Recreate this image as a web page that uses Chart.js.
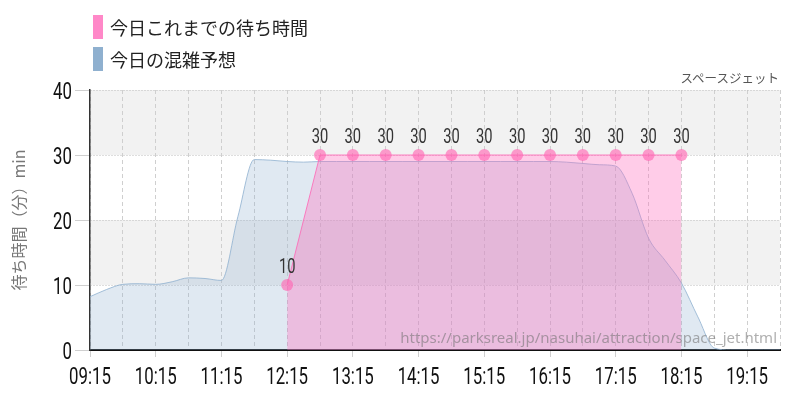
<!DOCTYPE html>
<html>
<head>
<meta charset="utf-8">
<script src="https://cdn.jsdelivr.net/npm/chart.js@4"></script>
<style>
  body { margin: 0; background: #fff; }
  #wrap { position: relative; width: 800px; height: 400px; }
  .legend { position: absolute; left: 93px; font-family: "Noto Sans CJK JP", sans-serif; font-size: 18px; color: #222; }
  .legend span.box { display: inline-block; width: 10px; height: 24px; vertical-align: middle; margin-right: 7px; }
  .legend span.txt { vertical-align: middle; }
  #attr { position: absolute; right: 21px; top: 68px; font-family: "Noto Sans CJK JP", sans-serif; font-size: 12.5px; color: #555; }
</style>
</head>
<body>
<div id="wrap">
  <canvas id="myChart" width="800" height="400"></canvas>
  <div class="legend" style="top:11px"><span class="box" style="background:#ff88c8"></span><span class="txt">今日これまでの待ち時間</span></div>
  <div class="legend" style="top:43px"><span class="box" style="background:#8fb0cf"></span><span class="txt">今日の混雑予想</span></div>
  <div id="attr">スペースジェット</div>
</div>
<script>
// times are minutes since midnight
const actualTimes = [735, 765, 795, 825, 855, 885, 915, 945, 975, 1005, 1035, 1065, 1095];
const actualWaits = [10, 30, 30, 30, 30, 30, 30, 30, 30, 30, 30, 30, 30];

const forecastTimes = [555, 570, 585, 600, 615, 630, 645, 660, 675, 690, 705, 720, 735, 750, 765,
  780, 795, 810, 825, 840, 855, 870, 885, 900, 915, 930, 945, 960, 975, 990, 1005, 1020, 1035,
  1050, 1065, 1080, 1095, 1110, 1125, 1140, 1155, 1170, 1185];
const forecastWaits = [8.2, 9.3, 10.1, 10.2, 10.1, 10.5, 11.1, 11.0, 10.7, 20.5, 29.3, 29.2, 29.0, 28.9, 29.0,
  29.0, 29.0, 29.0, 29.0, 29.0, 29.0, 29.0, 29.0, 29.0, 29.0, 29.0, 29.0, 29.0, 29.0, 28.9, 28.7, 28.5, 28.3,
  24.1, 17.2, 13.8, 10.3, 5.1, 0.3, 0, 0, 0, 0];

const xMin = 555;
const xMax = 1185;
const yTicks = [0, 10, 20, 30, 40];

function fmtTime(v) {
  const h = Math.floor(v / 60), m = v % 60;
  return String(h).padStart(2, '0') + ':' + String(m).padStart(2, '0');
}
const isHourTick = v => (v - xMin) % 60 === 0;

const numFont = "Roboto, sans-serif";
const squeeze = 0.7; // no condensed font installed, so narrow the glyphs

function narrowText(ctx, text, x, y) {
  ctx.save();
  ctx.translate(x, y);
  ctx.scale(squeeze, 1);
  ctx.fillText(text, 0, 0);
  ctx.restore();
}

// grey bands 10-20 and 30-40
const bandsPlugin = {
  id: 'bands',
  beforeDraw(chart) {
    const { ctx, chartArea, scales: { y } } = chart;
    ctx.save();
    ctx.fillStyle = '#f2f2f2';
    [[10, 20], [30, 40]].forEach(([a, b]) => {
      const top = y.getPixelForValue(b), bot = y.getPixelForValue(a);
      ctx.fillRect(chartArea.left, top, chartArea.right - chartArea.left, bot - top);
    });
    ctx.restore();
  }
};

const textPlugin = {
  id: 'texts',
  afterDraw(chart) {
    const ctx = chart.ctx;
    const { x, y } = chart.scales;
    ctx.save();
    ctx.textBaseline = 'alphabetic';

    // value labels over the pink points
    ctx.font = '21px ' + numFont;
    ctx.fillStyle = '#333';
    ctx.textAlign = 'center';
    chart.getDatasetMeta(0).data.forEach((pt, i) => {
      narrowText(ctx, String(actualWaits[i]), pt.x, pt.y - 12);
    });

    // axis labels
    ctx.font = '24px ' + numFont;
    ctx.fillStyle = '#111';
    x.ticks.forEach(t => {
      if (!isHourTick(t.value)) return;
      narrowText(ctx, fmtTime(t.value), x.getPixelForValue(t.value), 384);
    });
    ctx.textAlign = 'right';
    y.ticks.forEach(t => {
      narrowText(ctx, String(t.value), 72, y.getPixelForValue(t.value) + 8.5);
    });

    // watermark
    ctx.font = "15px 'Noto Sans', sans-serif";
    ctx.fillStyle = 'rgba(110,110,110,0.55)';
    ctx.fillText('https://parksreal.jp/nasuhai/attraction/space_jet.html', chart.chartArea.right - 3, chart.chartArea.bottom - 7);
    ctx.restore();
  }
};

const ctx = document.getElementById('myChart').getContext('2d');
new Chart(ctx, {
  type: 'line',
  data: {
    datasets: [{
      label: '今日これまでの待ち時間',
      data: actualTimes.map((t, i) => ({ x: t, y: actualWaits[i] })),
      borderColor: 'rgba(255,100,180,0.8)',
      borderWidth: 1,
      backgroundColor: 'rgba(255,110,190,0.35)',
      fill: 'origin',
      tension: 0,
      pointRadius: 6,
      pointBackgroundColor: 'rgba(255,105,180,0.65)',
      pointBorderWidth: 0
    }, {
      label: '今日の混雑予想',
      data: forecastTimes.map((t, i) => ({ x: t, y: forecastWaits[i] })),
      borderColor: 'rgba(143,176,207,0.8)',
      borderWidth: 1,
      backgroundColor: 'rgba(143,176,207,0.28)',
      fill: 'origin',
      cubicInterpolationMode: 'monotone',
      pointRadius: 0
    }]
  },
  options: {
    responsive: false,
    animation: false,
    layout: { padding: { top: 90, right: 20, left: 0, bottom: 0 } },
    plugins: { legend: { display: false }, tooltip: { enabled: false } },
    scales: {
      x: {
        type: 'linear',
        min: xMin,
        max: xMax,
        afterFit: s => { s.height = 50; },
        ticks: { display: false, stepSize: 30, autoSkip: false },
        grid: {
          color: '#cfcfcf',
          lineWidth: 1,
          tickLength: 7,
          tickColor: c => (c.tick && isHourTick(c.tick.value)) ? '#cfcfcf' : 'rgba(0,0,0,0)'
        },
        border: { color: '#111', width: 2, dash: [4, 3] }
      },
      y: {
        min: 0,
        max: 40,
        afterFit: s => { s.width = 90; },
        afterBuildTicks: s => { s.ticks = yTicks.map(v => ({ value: v })); },
        title: {
          display: true,
          text: '待ち時間（分）min',
          color: '#777',
          font: { family: "'Noto Sans CJK JP', sans-serif", size: 16 },
          padding: { top: 9, bottom: 0 }
        },
        ticks: { display: false },
        grid: {
          color: '#bdbdbd',
          tickLength: 15,
          tickColor: '#cfcfcf'
        },
        border: { color: '#333', width: 1.5, dash: [1, 2] }
      }
    }
  },
  plugins: [bandsPlugin, textPlugin]
});
</script>
</body>
</html>
